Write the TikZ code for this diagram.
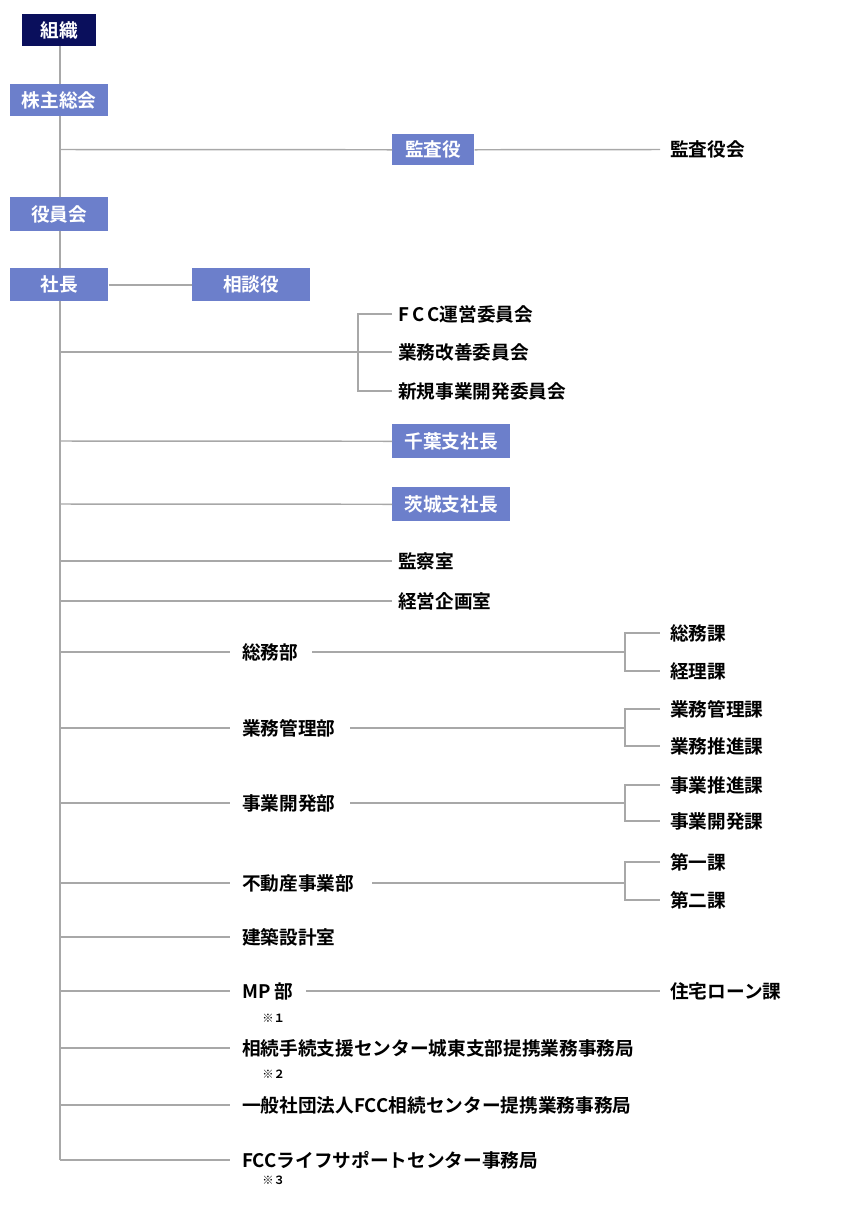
\documentclass[tikz,border=0pt]{standalone}
\usepackage{fontspec}
\setmainfont{Noto Sans CJK JP}[BoldFont={* Bold}]
\definecolor{navy}{HTML}{0A0F5C}
\definecolor{boxblue}{HTML}{6C7FCB}
\definecolor{ln}{HTML}{A8A8A8}
\tikzset{
 bx/.style={fill=boxblue,text=white,font=\bfseries\fontsize{14}{16}\selectfont,inner sep=0,anchor=north west},
 lbl/.style={anchor=west,font=\bfseries\fontsize{14}{16}\selectfont,inner sep=0},
 note/.style={anchor=west,font=\bfseries\fontsize{8.5}{9}\selectfont,inner sep=0},
 cn/.style={draw=ln,line width=1.1pt}
}
\newcommand{\boxat}[6]{\node[bx,minimum width=#3*0.75pt,minimum height=#4*0.75pt] (#5) at (#1,#2) {#6};}
\begin{document}
\begin{tikzpicture}[x=0.75pt,y=-0.75pt]
\useasboundingbox (0,0) rectangle (850,1225);
% main trunk
\coordinate (top) at (60,46); \coordinate (bot) at (60,1160);
\draw[cn] (top) -- (bot);
\node[bx,fill=navy,minimum width=74*0.75pt,minimum height=32*0.75pt] (sosiki) at (22,14) {組織};
\boxat{10}{84}{98}{32}{kabu}{株主総会}
\boxat{392}{134}{82}{31}{kansa}{監査役}
\coordinate (c1) at (60,149.5);
\draw[cn] (c1) -- (kansa.west);
\node[lbl] (kansakai) at (670,149.5) {監査役会};
\draw[cn] (kansa.east) -- (660,149.5);
\boxat{10}{197}{98}{34}{yakuin}{役員会}
\boxat{10}{268}{98}{33}{shacho}{社長}
\boxat{192}{268}{118}{33}{sodan}{相談役}
\draw[cn] (shacho.east) -- (sodan.west);
% committees
\node[lbl] (i1) at (398,314) {F\,C\,C運営委員会};
\node[lbl] (i2) at (398,352) {業務改善委員会};
\node[lbl] (i3) at (398,391) {新規事業開発委員会};
\draw[cn] (60,352) -- (358,352);
\draw[cn] (392,314) -- (358,314) -- (358,391) -- (392,391);
\draw[cn] (358,352) -- (392,352);
\boxat{392}{424}{118}{34}{chiba}{千葉支社長}
\draw[cn] (60,441) -- (chiba.west);
\boxat{392}{487}{118}{34}{ibaraki}{茨城支社長}
\draw[cn] (60,504) -- (ibaraki.west);
\node[lbl] (kanst) at (398,561) {監察室};
\draw[cn] (60,561) -- (392,561);
\node[lbl] (keiei) at (398,601) {経営企画室};
\draw[cn] (60,601) -- (392,601);
% departments with sections
\foreach \y/\t/\e/\ya/\yb/\sa/\sb in {
 652/総務部/312/633/671/総務課/経理課,
 728/業務管理部/350/709/746/業務管理課/業務推進課,
 803/事業開発部/350/785/821/事業推進課/事業開発課,
 883/不動産事業部/372/862/900/第一課/第二課}{
 \draw[cn] (60,\y) -- (230,\y);
 \node[lbl] at (242,\y) {\t};
 \draw[cn] (\e,\y) -- (625,\y);
 \draw[cn] (660,\ya) -- (625,\ya) -- (625,\yb) -- (660,\yb);
 \node[lbl] at (670,\ya) {\sa};
 \node[lbl] at (670,\yb) {\sb};
}
\node[lbl] (kenchiku) at (242,937) {建築設計室};
\draw[cn] (60,937) -- (230,937);
\node[lbl] (mp) at (242,991) {MP 部};
\draw[cn] (60,991) -- (230,991);
\node[lbl] (loan) at (670,991) {住宅ローン課};
\draw[cn] (306,991) -- (660,991);
\node[note] at (262,1018) {※１};
\node[lbl] (s1) at (242,1048) {相続手続支援センター城東支部提携業務事務局};
\draw[cn] (60,1048) -- (230,1048);
\node[note] at (262,1074) {※２};
\node[lbl] (s2) at (242,1105) {一般社団法人FCC相続センター提携業務事務局};
\draw[cn] (60,1105) -- (230,1105);
\node[lbl] (s3) at (242,1160) {FCCライフサポートセンター事務局};
\draw[cn] (bot) -- (230,1160);
\node[note] at (262,1180) {※３};
\end{tikzpicture}
\end{document}
